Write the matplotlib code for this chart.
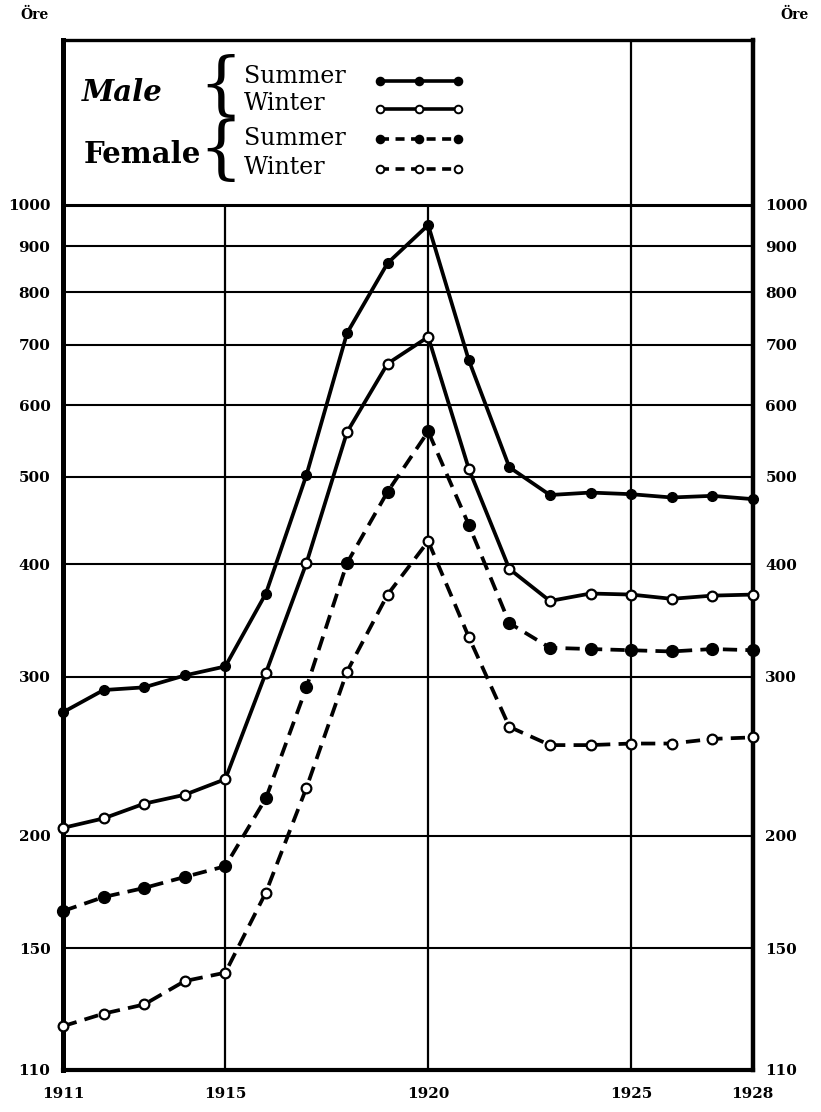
import matplotlib.pyplot as plt
from matplotlib.ticker import FixedLocator, NullLocator

years = list(range(1911, 1929))
male_summer = [274, 290, 292, 301, 308, 371, 502, 721, 862, 950,
               673, 512, 477, 480, 478, 474, 476, 472]
male_winter = [204, 209, 217, 222, 231, 303, 401, 560, 667, 714,
               510, 395, 364, 371, 370, 366, 369, 370]
female_summer = [165, 171, 175, 180, 185, 220, 292, 401, 481, 561,
                 442, 344, 323, 322, 321, 320, 322, 321]
female_winter = [123, 127, 130, 138, 141, 173, 226, 304, 370, 424,
                 332, 264, 252, 252, 253, 253, 256, 257]

y_ticks = [110, 150, 200, 300, 400, 500, 600, 700, 800, 900, 1000]
grid_levels = [150, 200, 300, 400, 500, 600, 700, 800, 900, 1000]
x_ticks = [1911, 1915, 1920, 1925, 1928]
v_lines = [1915, 1920]

serif = ['DejaVu Serif']

fig = plt.figure(figsize=(8.21, 11.12), dpi=100)
ax = fig.add_axes([0.0767, 0.0378, 0.917 - 0.0767, 0.964 - 0.0378])
ax.set_yscale('log')
ax.set_xlim(1911, 1928)
ax.set_ylim(110, 1523)

# grid
ax.hlines(grid_levels[:-1], 1911, 1928, color='black', lw=1.5, zorder=1)
ax.hlines(1000, 1911, 1928, color='black', lw=2.2, zorder=1)
ax.vlines(v_lines, 110, 1000, color='black', lw=1.6, zorder=1)
ax.vlines(1925, 110, 1523, color='black', lw=1.6, zorder=1)

lw = 2.7
ms = 7
ax.plot(years, male_summer, color='black', lw=lw, marker='o', ms=ms,
        mfc='black', mec='black', zorder=3, clip_on=False)
ax.plot(years, male_winter, color='black', lw=lw, marker='o', ms=ms,
        mfc='white', mec='black', mew=1.6, zorder=3, clip_on=False)
ax.plot(years, female_summer, color='black', lw=lw, marker='o', ms=ms + 1.5,
        mfc='black', mec='black', dashes=(3.8, 2.2), zorder=3, clip_on=False)
ax.plot(years, female_winter, color='black', lw=lw, marker='o', ms=ms,
        mfc='white', mec='black', mew=1.6, dashes=(3.8, 2.2), zorder=3,
        clip_on=False)

# axes styling
for side, w in [('left', 3.6), ('right', 3.2), ('bottom', 3.0), ('top', 2.4)]:
    ax.spines[side].set_linewidth(w)
ax.yaxis.set_major_locator(FixedLocator(y_ticks))
ax.yaxis.set_minor_locator(NullLocator())
ax.set_yticklabels([str(v) for v in y_ticks])
ax.set_xticks(x_ticks)
ax.set_xticklabels([str(v) for v in x_ticks])
ax.tick_params(axis='y', length=0, pad=9, labelright=True, labelsize=11)
ax.tick_params(axis='x', length=0, pad=12, labelsize=11)
for lab in ax.get_yticklabels() + ax.get_xticklabels():
    lab.set_family(serif)
    lab.set_fontweight('bold')

fig.text(20 / 821, 1 - 15 / 1112, 'Öre', family=serif, fontweight='bold',
         fontsize=10, va='center', ha='left')
fig.text(780 / 821, 1 - 15 / 1112, 'Öre', family=serif, fontweight='bold',
         fontsize=10, va='center', ha='left')

# legend drawn inside the upper box
def px(x, y):
    return (x - 63) / (753 - 63), (1072 - y) / (1072 - 40)

tr = ax.transAxes
ax.text(*px(82, 93), 'Male', transform=tr, family=serif, fontweight='bold',
        fontstyle='italic', fontsize=21, va='center', ha='left')
ax.text(*px(84, 155), 'Female', transform=tr, family=serif, fontweight='bold',
        fontsize=21, va='center', ha='left')
ax.text(*px(243, 88), '{', transform=tr, family=serif, fontsize=50,
        fontweight='light', va='center', ha='right')
ax.text(*px(243, 152), '{', transform=tr, family=serif, fontsize=50,
        fontweight='light', va='center', ha='right')
labels = ['Summer', 'Winter', 'Summer', 'Winter']
ys = [77, 104, 139, 168]
for lab, y in zip(labels, ys):
    ax.text(*px(244, y), lab, transform=tr, family=serif, fontsize=17,
            va='center', ha='left')

styles = [
    dict(mfc='black', dashes=None),
    dict(mfc='white', dashes=None),
    dict(mfc='black', dashes=(2.5, 1.8)),
    dict(mfc='white', dashes=(2.5, 1.8)),
]
for y, st in zip([81, 109, 139, 169], styles):
    x0, yy = px(380, y)
    x1, _ = px(458, y)
    xs = [x0, (x0 + x1) / 2, x1]
    kw = dict(color='black', lw=2.6, marker='o', ms=5.5, mfc=st['mfc'],
              mec='black', mew=1.4, transform=tr)
    if st['dashes']:
        kw['dashes'] = st['dashes']
    ax.plot(xs, [yy] * 3, **kw)

fig.savefig('out.png', dpi=100)
